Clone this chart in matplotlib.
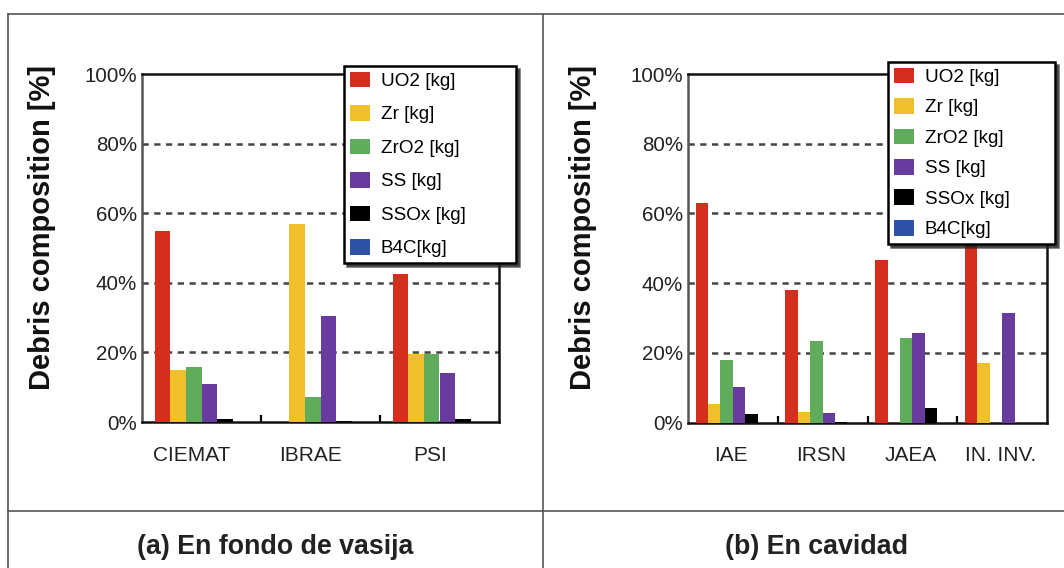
import numpy as np
import matplotlib.pyplot as plt
from matplotlib.lines import Line2D
from matplotlib.patches import Patch

plt.rcParams['font.family'] = ['Liberation Sans', 'DejaVu Sans']

# Datos (% de la composición de los escombros)
componentes = ['UO2 [kg]', 'Zr [kg]', 'ZrO2 [kg]', 'SS [kg]', 'SSOx [kg]', 'B4C[kg]']
colores = ['#d42e1e', '#efc02a', '#5eac5c', '#6a3b9e', '#000000', '#2d52a8']

cat_vasija = ['CIEMAT', 'IBRAE', 'PSI']
uo2_vasija = [55, 0, 42.5]
zr_vasija = [15, 57, 19.5]
zro2_vasija = [15.7, 7.2, 19.5]
ss_vasija = [10.9, 30.4, 14.2]
ssox_vasija = [1.0, 0.3, 1.0]
b4c_vasija = [0, 0, 0]

cat_cavidad = ['IAE', 'IRSN', 'JAEA', 'IN. INV.']
uo2_cavidad = [63, 38, 46.7, 52]
zr_cavidad = [5.5, 3.2, 0, 17]
zro2_cavidad = [18, 23.4, 24.2, 0]
ss_cavidad = [10.3, 2.7, 25.6, 31.5]
ssox_cavidad = [2.5, 0.3, 4.1, 0]
b4c_cavidad = [0, 0, 0, 0]


def panel(ax, cats, series, ancho, desplaz_etiqueta):
    x = np.arange(len(cats))
    for k, (vals, col) in enumerate(zip(series, colores)):
        ax.bar(x + (k - 2.5) * ancho, vals, ancho, color=col, zorder=3)
    for yy in [20, 40, 60, 80]:
        ax.axhline(yy, color='#444444', lw=1.8, ls=(0, (2.5, 2.2)), zorder=1)
    ax.set_xlim(-0.5, len(cats) - 0.5)
    ax.set_ylim(0, 100)
    ax.set_yticks([0, 20, 40, 60, 80, 100])
    ax.set_yticklabels(['0%', '20%', '40%', '60%', '80%', '100%'])
    ax.set_xticks(x + desplaz_etiqueta)
    ax.set_xticklabels(cats)
    ax.set_xticks(x[:-1] + 0.5, minor=True)
    ax.tick_params(axis='x', which='major', length=0, pad=17, labelsize=15, labelcolor='#222222')
    ax.tick_params(axis='x', which='minor', direction='in', length=5, width=1.6)
    ax.tick_params(axis='y', length=0, pad=3.5, labelsize=14.8, labelcolor='#222222')
    for s in ax.spines.values():
        s.set_linewidth(1.8)
        s.set_color('#111111')
    ax.spines['left'].set_color('#555555')


fig = plt.figure(figsize=(10.64, 5.68), dpi=100)
W, H = 1064, 568

ax1 = fig.add_axes([142 / W, 1 - 422 / H, 357 / W, 348 / H])
ax2 = fig.add_axes([688 / W, 1 - 422.7 / H, 359 / W, 348.7 / H])

panel(ax1, cat_vasija, [uo2_vasija, zr_vasija, zro2_vasija, ss_vasija, ssox_vasija, b4c_vasija], 0.131, -0.08)
panel(ax2, cat_cavidad, [uo2_cavidad, zr_cavidad, zro2_cavidad, ss_cavidad, ssox_cavidad, b4c_cavidad], 0.138, -0.02)

handles = [Patch(facecolor=c, edgecolor='none') for c in colores]
# (izquierda, arriba, ancho) en píxeles de la figura
cajas = [(ax1, 344, 66, 172, 0.8), (ax2, 888, 62, 167, 0.64)]
for ax, x0, y0, ancho, sep in cajas:
    leg = ax.legend(handles, componentes, loc='upper left',
                    bbox_to_anchor=(x0 / W, 1 - y0 / H - 0.3, ancho / W, 0.3),
                    bbox_transform=fig.transFigure, mode='expand', borderaxespad=0,
                    fontsize=13.6, frameon=True,
                    fancybox=False, edgecolor='black', framealpha=1,
                    handlelength=1.1, handleheight=0.9, handletextpad=0.55,
                    labelspacing=sep, borderpad=0.3,
                    shadow={'color': '#222222', 'alpha': 0.7})
    leg.get_frame().set_linewidth(1.8)
    leg.set_zorder(10)

for ax, xc in [(ax1, 42 / W), (ax2, 583 / W)]:
    fig.text(xc, 1 - 228 / H, 'Debris composition [%]', rotation=90, ha='center', va='center',
             fontsize=21, fontweight='bold', color='#111111')

# Marco de la tabla
gris = '#555555'
fig.add_artist(Line2D([8 / W, 1], [1 - 14 / H, 1 - 14 / H], color=gris, lw=1.2))
fig.add_artist(Line2D([8 / W, 8 / W], [0, 1 - 14 / H], color=gris, lw=1.2))
fig.add_artist(Line2D([543 / W, 543 / W], [0, 1 - 14 / H], color=gris, lw=1.2))
fig.add_artist(Line2D([8 / W, 1], [1 - 511 / H, 1 - 511 / H], color=gris, lw=1.2))

fig.text(275 / W, 1 - 547 / H, '(a) En fondo de vasija', ha='center', va='center',
         fontsize=19.3, fontweight='bold', color='#222222')
fig.text(817 / W, 1 - 547 / H, '(b) En cavidad', ha='center', va='center',
         fontsize=19.3, fontweight='bold', color='#222222')

fig.savefig('out.png', dpi=100)
